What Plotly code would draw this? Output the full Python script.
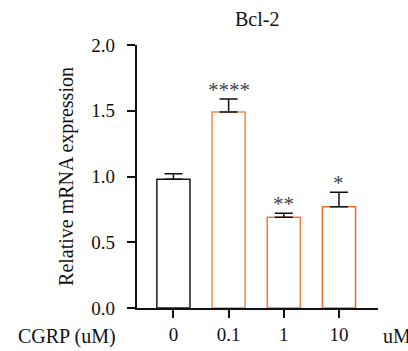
import plotly.graph_objects as go

categories = ["0", "0.1", "1", "10"]
values = [0.98, 1.49, 0.69, 0.77]
errors = [0.04, 0.10, 0.03, 0.11]
stars = ["", "****", "**", "*"]
outline_colors = ["#1a1a1a", "#F28A4E", "#F07A3C", "#EE6C2C"]
y_ticks = [0.0, 0.5, 1.0, 1.5, 2.0]
y_tick_text = ["0.0", "0.5", "1.0", "1.5", "2.0"]

FONT = "Liberation Serif, Times New Roman, serif"
FS = 19

W, H = 408, 351
L, R, T, B = 136.5, 30, 45, 42.5
pw = W - L - R
ph = H - T - B

fig = go.Figure()
fig.add_trace(go.Bar(
    x=categories, y=values, width=0.6,
    marker=dict(color="white", line=dict(color=outline_colors, width=1.5)),
    error_y=dict(type="data", array=errors, arrayminus=[0] * len(errors),
                 symmetric=False, color="#111", thickness=1.5, width=9),
    showlegend=False,
))

for i, (v, e, s) in enumerate(zip(values, errors, stars)):
    if s:
        fig.add_annotation(x=i, y=v + e, text=s, showarrow=False,
                           yanchor="bottom", yshift=-5,
                           font=dict(family=FONT, size=21, color="#444"))

fig.add_annotation(xref="paper", yref="paper", x=(117 - L) / pw, y=-(337 - (H - B)) / ph,
                   text="CGRP (uM)", showarrow=False, xanchor="right", yanchor="middle",
                   font=dict(family=FONT, size=FS + 1, color="#111"))
fig.add_annotation(xref="paper", yref="paper", x=(381 - L) / pw, y=-(337 - (H - B)) / ph,
                   text="uM", showarrow=False, xanchor="left", yanchor="middle",
                   font=dict(family=FONT, size=FS + 1, color="#111"))

# short extension of x-axis line to the left of the y-axis
fig.add_shape(type="line", xref="paper", yref="paper", x0=-8.5 / pw, x1=0, y0=0, y1=0,
              line=dict(color="#111", width=1.5))

fig.update_layout(
    width=W, height=H,
    margin=dict(l=L, r=R, t=T, b=B, pad=0),
    plot_bgcolor="white", paper_bgcolor="white",
    font=dict(family=FONT, size=FS, color="#111"),
    title=dict(text="Bcl-2", x=(L + pw / 2) / W, xanchor="center", y=1 - 19 / H, yanchor="middle",
               font=dict(family=FONT, size=FS + 1, color="#111")),
    xaxis=dict(type="category", range=[-0.66, 3.707], showline=True, linecolor="#111", linewidth=1.5,
               ticks="outside", ticklen=8, tickwidth=1.5, tickcolor="#111",
               showgrid=False, zeroline=False, automargin=False,
               tickfont=dict(family=FONT, size=FS, color="#111")),
    yaxis=dict(range=[0, 2.0], showline=True, linecolor="#111", linewidth=1.5,
               ticks="outside", ticklen=8.5, tickwidth=1.5, tickcolor="#111",
               tickvals=y_ticks, ticktext=y_tick_text, showgrid=False, zeroline=False,
               ticklabelstandoff=8, automargin=False,
               title=dict(text="Relative mRNA expression", standoff=12,
                          font=dict(family=FONT, size=20, color="#111")),
               tickfont=dict(family=FONT, size=FS, color="#111")),
)

fig.write_html("out.html")
